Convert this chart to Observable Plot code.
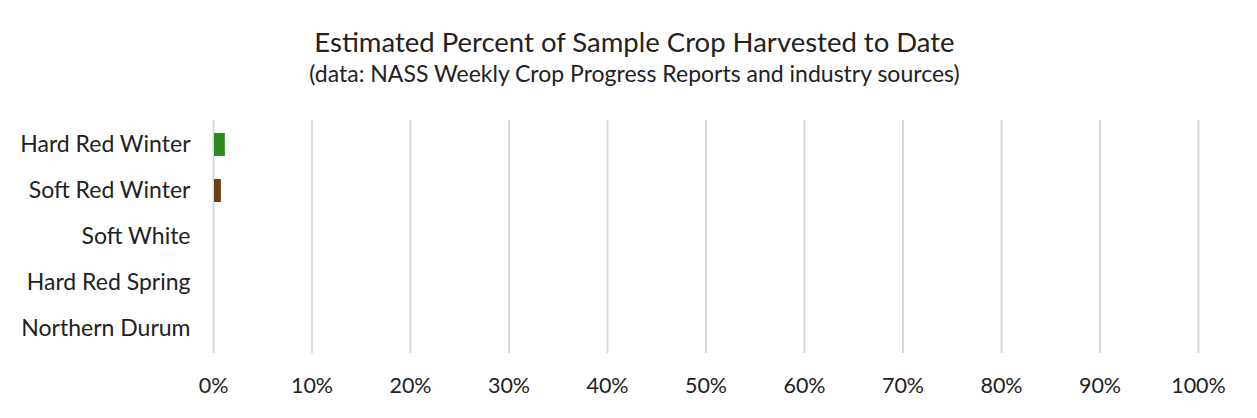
<!DOCTYPE html>
<html>
<head>
<meta charset="utf-8">
<script src="https://cdn.jsdelivr.net/npm/d3@7"></script>
<script src="https://cdn.jsdelivr.net/npm/@observablehq/plot@0.6"></script>
<style>
  body { margin: 0; background: #fff; font-family: Lato, "Open Sans", sans-serif; color: #222; }
  #wrap { width: 1257px; }
  .title { text-align: center; font-size: 27.5px; line-height: 32px; padding-top: 26px; padding-left: 12px; height: 32px; }
  .subtitle { text-align: center; font-size: 23px; line-height: 30px; padding-left: 12px; height: 42px; }
</style>
</head>
<body>
<div id="wrap">
  <div class="title">Estimated Percent of Sample Crop Harvested to Date</div>
  <div class="subtitle">(data: NASS Weekly Crop Progress Reports and industry sources)</div>
  <div id="chart"></div>
</div>
<script>
const categories = ["Hard Red Winter", "Soft Red Winter", "Soft White", "Hard Red Spring", "Northern Durum"];
const values = [0.012, 0.008, 0, 0, 0];
const colors = ["#2a8a1e", "#6b3f0f", "#999999", "#999999", "#999999"];
const ticks = [0, 0.1, 0.2, 0.3, 0.4, 0.5, 0.6, 0.7, 0.8, 0.9, 1.0];

const data = categories.map((c, i) => ({category: c, value: values[i], color: colors[i]}));

const chart = Plot.plot({
  width: 1257,
  height: 318,
  marginTop: 20,
  marginBottom: 65,
  marginLeft: 213,
  marginRight: 59,
  style: {fontFamily: "Lato, 'Open Sans', sans-serif", fontSize: "23px", color: "#222", background: "#fff"},
  x: {domain: [0, 1], ticks: ticks, tickFormat: d => Math.round(d * 100) + "%", label: null, tickSize: 0, tickPadding: 24},
  y: {domain: categories, label: null, tickSize: 0, tickPadding: 23, paddingInner: 0.5, paddingOuter: 0.25},
  marks: [
    Plot.gridX(ticks, {stroke: "#d9d9d9", strokeOpacity: 1, strokeWidth: 2}),
    Plot.barX(data.filter(d => d.value > 0), {x: "value", y: "category", fill: "color", insetLeft: 1})
  ]
});
chart.querySelectorAll("[aria-label='x-axis tick label'] text").forEach(t => t.style.fontSize = "21.5px");
document.getElementById("chart").appendChild(chart);
</script>
</body>
</html>
